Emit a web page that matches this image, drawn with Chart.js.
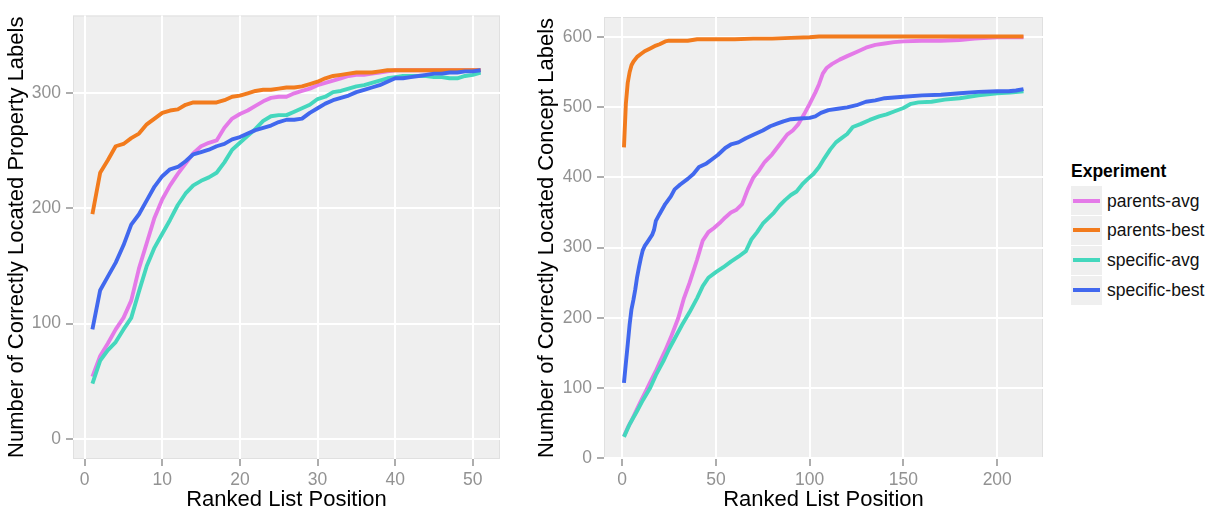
<!DOCTYPE html>
<html><head><meta charset="utf-8">
<script src="https://cdn.jsdelivr.net/npm/chart.js@4/dist/chart.umd.min.js"></script>
<style>
html,body{margin:0;padding:0;background:#fff;width:1209px;height:511px;overflow:hidden;font-family:"Liberation Sans",Arial,sans-serif;}
#w1{position:absolute;left:0;top:0;width:515px;height:511px;}
#w2{position:absolute;left:530px;top:0;width:528px;height:511px;}
#legend{position:absolute;left:1071px;top:0;width:138px;height:511px;}
#legend .title{position:absolute;left:0;top:160px;font-weight:bold;font-size:17.5px;line-height:22px;color:#000;white-space:nowrap;}
#legend .key{position:absolute;left:0;width:31px;height:29px;background:#EFEFEF;}
#legend .key i{position:absolute;left:2px;right:2px;top:12.5px;height:4px;display:block;}
#legend .lab{position:absolute;left:36px;font-size:17.5px;line-height:20px;color:#111;white-space:nowrap;}
</style></head>
<body>
<div id="w1"><canvas id="c1" width="515" height="511"></canvas></div>
<div id="w2"><canvas id="c2" width="528" height="511"></canvas></div>
<div id="legend"></div>
<script>
// ---- series / categories ----
const seriesNames = ['parents-avg','parents-best','specific-avg','specific-best'];
const seriesColors = ['#E47AE8','#F27B1D','#44D7BD','#4168EE'];

// Left chart: property labels, ranked positions 1..51
const leftPositions = [1,2,3,4,5,6,7,8,9,10,11,12,13,14,15,16,17,18,19,20,21,22,23,24,25,26,27,28,29,30,31,32,33,34,35,36,37,38,39,40,41,42,43,44,45,46,47,48,49,50,51];
const leftParentsAvg = [54,72,83,95,105,120,148,170,192,208,220,230,239,248,254,257,259,270,278,282,285,289,293,296,297,297,300,302,304,307,309,311,313,315,316,316,317,318,319,320,320,320,320,320,320,320,320,320,320,320,320];
const leftParentsBest = [195,231,242,254,256,261,265,273,278,283,285,286,290,292,292,292,292,294,297,298,300,302,303,303,304,305,305,306,308,310,313,315,316,317,318,318,318,319,320,320,320,320,320,320,320,320,320,320,320,320,320];
const leftSpecificAvg = [48,68,77,84,95,105,128,150,166,178,190,203,213,220,224,227,231,240,251,257,263,269,276,280,281,281,284,287,290,295,297,301,302,304,306,307,309,311,313,314,315,315,315,315,314,314,313,313,315,316,318];
const leftSpecificBest = [95,129,141,153,168,186,195,207,219,228,234,236,241,247,249,251,254,256,260,262,265,268,270,272,275,277,277,278,283,287,291,294,296,298,301,303,305,307,310,313,313,314,315,316,317,317,318,318,319,319,320];

// Right chart: concept labels (read at selected ranked positions)
const rightParentsAvgX = [1,3,5,8,10,13,15,18,20,23,26,30,33,36,40,43,46,49,52,55,58,61,64,67,70,73,76,80,84,88,91,94,97,100,103,105,107,109,112,116,120,125,130,135,140,145,150,160,170,180,188,200,214];
const rightParentsAvgY = [31,43,53,70,81,97,108,124,136,153,172,200,228,250,283,310,322,328,335,343,350,354,362,383,400,410,422,433,447,461,467,476,490,505,521,533,548,556,562,568,573,579,585,589,591,593,594,595,595,596,598,600,600];
const rightParentsBestX = [1,2,3,4,5,6,8,10,12,15,18,20,23,25,30,35,40,50,60,70,80,90,100,105,120,150,180,214];
const rightParentsBestY = [443,505,535,550,560,565,572,576,580,584,588,590,594,595,595,595,597,597,597,598,598,599,600,601,601,601,601,601];
const rightSpecificAvgX = [1,4,8,11,15,18,22,25,29,32,36,40,43,46,50,54,58,62,66,69,72,75,78,81,84,87,90,93,96,99,102,105,108,111,114,117,120,123,127,132,137,141,145,150,154,158,165,172,180,190,200,207,214];
const rightSpecificAvgY = [30,48,67,82,100,118,138,155,175,190,208,228,245,257,265,272,280,287,295,312,322,334,342,350,360,368,375,380,390,398,405,415,428,440,450,456,462,472,476,482,487,490,494,499,505,507,508,511,513,517,520,521,523];
const rightSpecificBestX = [1,2,3,4,5,6,7,8,9,10,11,12,14,16,17,18,20,23,26,28,31,35,38,41,45,48,51,55,58,62,66,70,75,79,83,86,90,95,100,103,106,110,115,120,125,130,135,140,145,150,160,170,180,190,200,206,210,214];
const rightSpecificBestY = [107,135,162,190,212,225,240,258,272,285,296,302,310,318,325,338,348,362,373,383,390,398,405,415,420,426,432,442,447,450,456,461,467,473,477,480,483,484,485,487,492,496,498,500,503,508,510,513,514,515,517,518,520,522,523,523,524,526];

// tick labels
const leftXTicks = [0,10,20,30,40,50];
const leftYTicks = [0,100,200,300];
const rightXTicks = [0,50,100,150,200];
const rightYTicks = [0,100,200,300,400,500,600];

// ---- drawing ----
const FAMILY = '"Liberation Sans", Arial, Helvetica, sans-serif';
const TICK_GREY = '#929292';
const panelBg = {
  id:'panelBg',
  beforeDraw(chart){
    const {ctx, chartArea:a} = chart;
    ctx.save();
    ctx.fillStyle = '#EFEFEF';
    ctx.fillRect(a.left, a.top, a.right-a.left, a.bottom-a.top);
    ctx.strokeStyle = '#E0E0E0';
    ctx.lineWidth = 1;
    ctx.strokeRect(a.left+0.5, a.top+0.5, a.right-a.left-1, a.bottom-a.top-1);
    ctx.restore();
  }
};
function pairs(xs, ys){ return xs.map((x,i)=>({x:x, y:ys[i]})); }
function ds(idx, data){
  return {
    label: seriesNames[idx], data: data,
    borderColor: seriesColors[idx], backgroundColor: seriesColors[idx],
    borderWidth: 3.9, pointRadius: 0, pointHoverRadius: 0, tension: 0,
    borderJoinStyle: 'round', borderCapStyle: 'butt', fill: false,
    order: 4 - idx
  };
}
function xAxis(min, max, ticks){
  return {
    type:'linear', position:'bottom', min:min, max:max,
    afterBuildTicks: s => { s.ticks = ticks.map(v=>({value:v})); },
    afterFit: s => { s.height = 52; },
    grid:{color:'#FFFFFF', lineWidth:2, tickColor:TICK_GREY, tickLength:7, tickWidth:1.5, drawOnChartArea:true, drawTicks:true},
    border:{display:false},
    ticks:{color:TICK_GREY, font:{size:17.5, family:FAMILY}, padding:4, maxRotation:0, autoSkip:false, includeBounds:false},
    title:{display:true, text:'Ranked List Position', color:'#000', font:{size:22, family:FAMILY, lineHeight:1}, padding:{top:0,bottom:0}}
  };
}
function yAxis(min, max, ticks, width, title){
  return {
    type:'linear', position:'left', min:min, max:max,
    afterBuildTicks: s => { s.ticks = ticks.map(v=>({value:v})); },
    afterFit: s => { s.width = width; },
    grid:{color:'#FFFFFF', lineWidth:2, tickColor:TICK_GREY, tickLength:7, tickWidth:1.5, drawOnChartArea:true, drawTicks:true},
    border:{display:false},
    ticks:{color:TICK_GREY, font:{size:17.5, family:FAMILY}, padding:5, autoSkip:false, includeBounds:false},
    title:{display:true, text:title, color:'#000', font:{size:22, family:FAMILY, lineHeight:1}, padding:{top:5.5,bottom:0}}
  };
}
const common = {
  responsive:false, animation:false, devicePixelRatio:1,
  plugins:{legend:{display:false}, tooltip:{enabled:false}},
  events:[]
};

new Chart(document.getElementById('c1'), {
  type:'line',
  data:{datasets:[
    ds(0, pairs(leftPositions, leftParentsAvg)),
    ds(1, pairs(leftPositions, leftParentsBest)),
    ds(2, pairs(leftPositions, leftSpecificAvg)),
    ds(3, pairs(leftPositions, leftSpecificBest))
  ]},
  options:Object.assign({}, common, {
    layout:{padding:{left:0, right:15, top:15, bottom:0}},
    scales:{
      x: xAxis(-1.5, 53.5, leftXTicks),
      y: yAxis(-17.5, 367.5, leftYTicks, 73, 'Number of Correctly Located Property Labels')
    }
  }),
  plugins:[panelBg]
});

new Chart(document.getElementById('c2'), {
  type:'line',
  data:{datasets:[
    ds(0, pairs(rightParentsAvgX, rightParentsAvgY)),
    ds(1, pairs(rightParentsBestX, rightParentsBestY)),
    ds(2, pairs(rightSpecificAvgX, rightSpecificAvgY)),
    ds(3, pairs(rightSpecificBestX, rightSpecificBestY))
  ]},
  options:Object.assign({}, common, {
    layout:{padding:{left:0, right:15, top:17, bottom:0}},
    scales:{
      x: xAxis(-9.65, 224.4, rightXTicks),
      y: yAxis(-1.5, 628.8, rightYTicks, 74, 'Number of Correctly Located Concept Labels')
    }
  }),
  plugins:[panelBg]
});

// legend (HTML text)
const lg = document.getElementById('legend');
const t = document.createElement('div'); t.className='title'; t.textContent='Experiment'; lg.appendChild(t);
const rowTops = [186, 215.5, 245.5, 275.5];
seriesNames.forEach((n,i)=>{
  const k = document.createElement('div'); k.className='key'; k.style.top = rowTops[i]+'px';
  const line = document.createElement('i'); line.style.background = seriesColors[i]; k.appendChild(line);
  lg.appendChild(k);
  const l = document.createElement('div'); l.className='lab'; l.style.top = (rowTops[i]+4.5)+'px'; l.textContent = n;
  lg.appendChild(l);
});
</script>
</body></html>
